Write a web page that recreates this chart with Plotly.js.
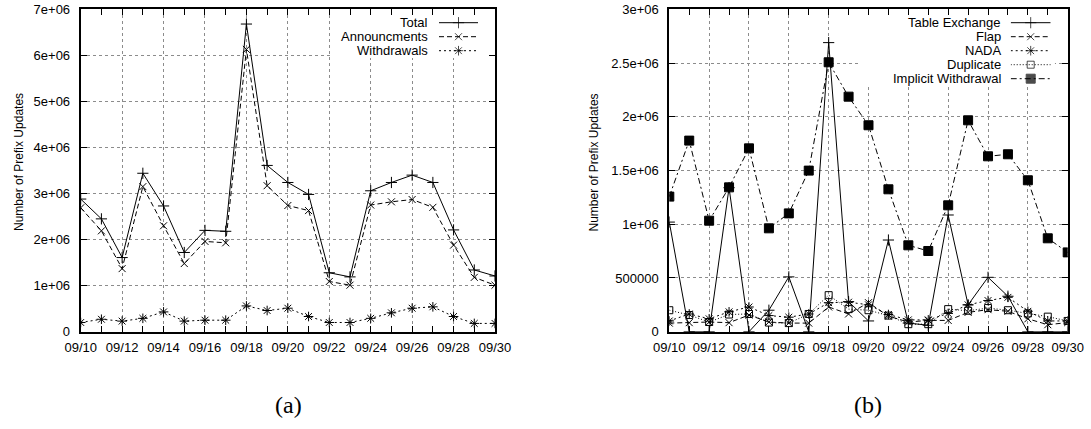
<!DOCTYPE html>
<html>
<head>
<meta charset="utf-8">
<script src="https://cdn.plot.ly/plotly-3.0.1.min.js"></script>
<style>html,body{margin:0;padding:0;background:#fff;}#chart{width:1091px;height:429px;}</style>
</head>
<body>
<div id="chart"></div>
<script>
// ---- data ----
const days = ['09/10','09/11','09/12','09/13','09/14','09/15','09/16','09/17','09/18','09/19','09/20',
              '09/21','09/22','09/23','09/24','09/25','09/26','09/27','09/28','09/29','09/30'];
const xTickLabels = ['09/10','09/12','09/14','09/16','09/18','09/20','09/22','09/24','09/26','09/28','09/30'];

// (a)
const total         = [2880000,2450000,1610000,3440000,2730000,1720000,2200000,2180000,6680000,3610000,3240000,
                       2980000,1280000,1190000,3060000,3240000,3400000,3240000,2210000,1340000,1210000];
const announcements = [2690000,2190000,1370000,3150000,2300000,1480000,1960000,1930000,6130000,3170000,2740000,
                       2630000,1090000,1010000,2750000,2820000,2870000,2700000,1880000,1180000,1010000];
const withdrawals   = [200000,270000,230000,290000,430000,230000,250000,250000,560000,460000,510000,
                       330000,200000,200000,290000,410000,510000,540000,330000,180000,180000];
const yTickValsA = [0,1000000,2000000,3000000,4000000,5000000,6000000,7000000];
const yTickTextA = ['0','1e+06','2e+06','3e+06','4e+06','5e+06','6e+06','7e+06'];

// (b)
const tableExchange = [1020000,0,0,1340000,0,200000,510000,0,2690000,280000,100000,
                       853000,80000,60000,1086000,250000,506000,330000,0,0,0];
const flap          = [80000,84000,90000,84000,155000,90000,80000,80000,230000,165000,270000,
                       145000,90000,105000,105000,180000,205000,190000,120000,65000,85000];
const nada          = [100000,165000,120000,185000,230000,150000,135000,165000,270000,275000,250000,
                       160000,110000,110000,170000,250000,290000,320000,190000,100000,100000];
const duplicate     = [200000,155000,90000,160000,165000,85000,80000,165000,340000,210000,200000,
                       150000,70000,70000,210000,195000,220000,200000,170000,140000,100000];
const implicitWd    = [1257000,1778000,1033000,1343000,1706000,962000,1101000,1499000,2507000,2187000,1921000,
                       1325000,804000,751000,1176000,1967000,1632000,1651000,1409000,869000,738000];
const yTickValsB = [0,500000,1000000,1500000,2000000,2500000,3000000];
const yTickTextB = ['0','500000','1e+06','1.5e+06','2e+06','2.5e+06','3e+06'];

// ---- styling ----
const W = 1091, H = 429;
const FONT = 'Liberation Sans, Arial, Helvetica, sans-serif';
const xIdx = days.map((d, i) => i);
const xTickVals = xTickLabels.map(t => days.indexOf(t));
const xRange = [0, days.length - 1];
const yRangeA = [0, 7000000];
const yRangeB = [0, 3000000];

const styles = {
  total:   {dash:'solid',            symbol:'cross-thin-open', size:8},
  ann:     {dash:'5px,3px',          symbol:'x-thin-open',     size:7},
  wd:      {dash:'2px,3px',          symbol:'asterisk-open',   size:8},
  table:   {dash:'solid',            symbol:'cross-thin-open', size:8},
  flap:    {dash:'5px,3px',          symbol:'x-thin-open',     size:7},
  nada:    {dash:'2px,3px',          symbol:'asterisk-open',   size:8},
  dup:     {dash:'1px,2px',          symbol:'square-open',     size:7},
  impl:    {dash:'6px,3px,2px,3px',  symbol:'square',          size:9}
};

function series(y, st, xa, ya) {
  return {
    x: xIdx, y: y, xaxis: xa, yaxis: ya, type: 'scatter', mode: 'lines+markers',
    line: {color: '#000', width: 1, dash: st.dash},
    marker: {symbol: st.symbol, size: st.size, color: '#000', line: {color: '#000', width: 1}},
    hoverinfo: 'skip', showlegend: false
  };
}
function sample(row, st, xa, ya) {
  return {
    x: [0, 0.5, 1], y: [row, row, row], xaxis: xa, yaxis: ya, type: 'scatter', mode: 'lines+markers',
    line: {color: '#000', width: 1, dash: st.dash},
    marker: {symbol: st.symbol, size: [0, st.size, 0], color: '#000', line: {color: '#000', width: 1}},
    hoverinfo: 'skip', showlegend: false
  };
}

const legendA = [['Total', styles.total], ['Announcments', styles.ann], ['Withdrawals', styles.wd]];
const legendB = [['Table Exchange', styles.table], ['Flap', styles.flap], ['NADA', styles.nada],
                 ['Duplicate', styles.dup], ['Implicit Withdrawal', styles.impl]];
const legRow0 = 22.7, legStep = 14;

const traces = [
  series(total, styles.total, 'x', 'y'),
  series(announcements, styles.ann, 'x', 'y'),
  series(withdrawals, styles.wd, 'x', 'y'),
  series(tableExchange, styles.table, 'x2', 'y2'),
  series(flap, styles.flap, 'x2', 'y2'),
  series(nada, styles.nada, 'x2', 'y2'),
  series(duplicate, styles.dup, 'x2', 'y2'),
  series(implicitWd, styles.impl, 'x2', 'y2')
];
legendA.forEach((e, i) => traces.push(sample(legRow0 + i * legStep, e[1], 'x3', 'y3')));
legendB.forEach((e, i) => traces.push(sample(legRow0 + i * legStep, e[1], 'x4', 'y4')));

const yDom = [1 - 331.7 / H, 1 - 9.3 / H];
const xDomA = [80.7 / W, 495 / W];
const xDomB = [669.3 / W, 1067.7 / W];

function xAxis(dom, anchor) {
  return {
    domain: dom, anchor: anchor, range: xRange, type: 'linear',
    tickvals: xTickVals, ticktext: xTickLabels, ticks: 'inside', ticklen: 6, tickwidth: 1, tickcolor: '#000',
    mirror: 'allticks', showline: true, linecolor: '#000', linewidth: 2,
    showgrid: true, gridcolor: '#8c8c8c', gridwidth: 1, griddash: 'dot', zeroline: false,
    minor: {dtick: 1, tick0: 0, ticks: 'inside', ticklen: 6, tickcolor: '#000', showgrid: false},
    tickfont: {family: FONT, size: 13, color: '#000'}, ticklabelstandoff: 3, fixedrange: true
  };
}
function yAxis(dom, anchor, range, vals, text) {
  return {
    domain: dom, anchor: anchor, range: range, tickvals: vals, ticktext: text,
    ticks: 'inside', ticklen: 6, tickwidth: 1, tickcolor: '#000',
    mirror: 'allticks', showline: true, linecolor: '#000', linewidth: 2,
    showgrid: true, gridcolor: '#8c8c8c', gridwidth: 1, griddash: 'dot', zeroline: false,
    tickfont: {family: FONT, size: 13, color: '#000'}, ticklabelstandoff: 6, fixedrange: true
  };
}
function hiddenAxis(dom, anchor, range) {
  return {domain: dom, anchor: anchor, range: range, visible: false, showgrid: false, zeroline: false, fixedrange: true};
}

const annotations = [];
legendA.forEach((e, i) => annotations.push({
  xref: 'paper', yref: 'paper', x: 429.5 / W, y: 1 - (legRow0 + i * legStep) / H,
  xanchor: 'right', yanchor: 'middle', showarrow: false, text: e[0],
  font: {family: FONT, size: 13, color: '#000'}
}));
legendB.forEach((e, i) => annotations.push({
  xref: 'paper', yref: 'paper', x: 1003 / W, y: 1 - (legRow0 + i * legStep) / H,
  xanchor: 'right', yanchor: 'middle', showarrow: false, text: e[0],
  font: {family: FONT, size: 13, color: '#000'}
}));
[[18.5], [593]].forEach(p => annotations.push({
  xref: 'paper', yref: 'paper', x: p[0] / W, y: 1 - 162.5 / H, xanchor: 'center', yanchor: 'middle',
  textangle: -90, showarrow: false, text: 'Number of Prefix Updates',
  font: {family: FONT, size: 12, color: '#000'}
}));
[['(a)', 288], ['(b)', 868]].forEach(p => annotations.push({
  xref: 'paper', yref: 'paper', x: p[1] / W, y: 1 - 405 / H, xanchor: 'center', yanchor: 'middle',
  showarrow: false, text: p[0], font: {family: 'Liberation Serif, DejaVu Serif, serif', size: 24, color: '#000'}
}));

// white key boxes that hide the grid behind each legend (fractions of the plot area)
function keyBox(xa, ya, yr, fx0, fx1, fy0, fy1) {
  const xs = xRange[1] - xRange[0], ys = yr[1] - yr[0];
  return {type: 'rect', xref: xa, yref: ya,
    x0: xRange[0] + fx0 * xs, x1: xRange[0] + fx1 * xs, y0: yr[0] + fy0 * ys, y1: yr[0] + fy1 * ys,
    fillcolor: '#fff', line: {width: 0}, layer: 'between'};
}
const shapes = [
  keyBox('x', 'y', yRangeA, 0.607, 0.988, 0.849, 0.994),
  keyBox('x2', 'y2', yRangeB, 0.479, 0.968, 0.762, 0.994)
];

const layout = {
  width: W, height: H, margin: {l: 0, r: 0, t: 0, b: 0},
  paper_bgcolor: '#fff', plot_bgcolor: 'rgba(0,0,0,0)',
  showlegend: false, hovermode: false,
  xaxis: xAxis(xDomA, 'y'),
  yaxis: yAxis(yDom, 'x', yRangeA, yTickValsA, yTickTextA),
  xaxis2: xAxis(xDomB, 'y2'),
  yaxis2: yAxis(yDom, 'x2', yRangeB, yTickValsB, yTickTextB),
  xaxis3: hiddenAxis([439 / W, 478 / W], 'y3', [0, 1]),
  yaxis3: hiddenAxis([0, 1], 'x3', [H, 0]),
  xaxis4: hiddenAxis([1010.7 / W, 1050.7 / W], 'y4', [0, 1]),
  yaxis4: hiddenAxis([0, 1], 'x4', [H, 0]),
  annotations: annotations, shapes: shapes
};

Plotly.newPlot('chart', traces, layout, {displayModeBar: false, staticPlot: true});
</script>
</body>
</html>
